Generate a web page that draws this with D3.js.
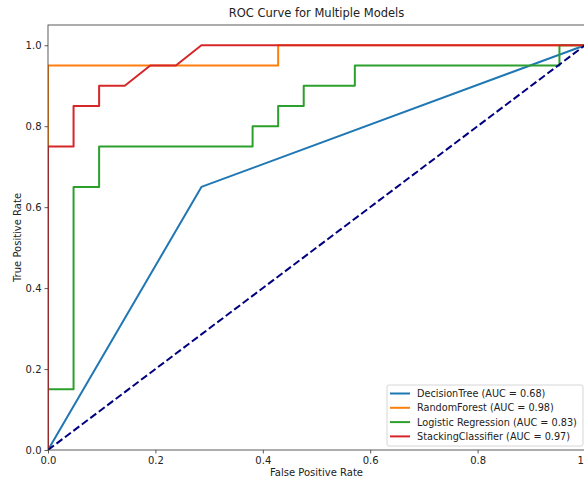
<!DOCTYPE html>
<html>
<head>
<meta charset="utf-8">
<script src="https://cdn.jsdelivr.net/npm/d3@7"></script>
<style>
  body { margin: 0; background: #fff; }
  svg { display: block; font-family: "DejaVu Sans", sans-serif; }
</style>
</head>
<body>
<div id="chart"></div>
<script>
// ROC points (fpr / tpr)
const treeFpr = [0, 0.2857, 1];
const treeTpr = [0, 0.65, 1];

const forestFpr = [0, 0, 0.4286, 0.4286, 1];
const forestTpr = [0, 0.95, 0.95, 1, 1];

const logisticFpr = [0, 0, 0.0476, 0.0476, 0.0952, 0.0952, 0.381, 0.381, 0.4286, 0.4286, 0.4762, 0.4762, 0.5714, 0.5714, 0.9524, 0.9524, 1];
const logisticTpr = [0, 0.15, 0.15, 0.65, 0.65, 0.75, 0.75, 0.8, 0.8, 0.85, 0.85, 0.9, 0.9, 0.95, 0.95, 1, 1];

const stackFpr = [0, 0, 0.0476, 0.0476, 0.0952, 0.0952, 0.1429, 0.1905, 0.2381, 0.2857, 1];
const stackTpr = [0, 0.75, 0.75, 0.85, 0.85, 0.9, 0.9, 0.95, 0.95, 1, 1];

const modelNames = ["DecisionTree", "RandomForest", "Logistic Regression", "StackingClassifier"];
const modelAuc = [0.68, 0.98, 0.83, 0.97];
const modelColors = ["#1f77b4", "#ff7f0e", "#2ca02c", "#d62728"];

const tickValues = [0, 0.2, 0.4, 0.6, 0.8, 1.0];

// Set the dimensions and margins of the graph
var margin = { top: 25, right: 0, bottom: 28, left: 48 },
  width = 537,
  height = 425;

var svg = d3
  .select("#chart")
  .append("svg")
  .attr("width", 584)
  .attr("height", 478)
  .append("g")
  .attr("transform", "translate(" + margin.left + "," + margin.top + ")");

var xScale = d3.scaleLinear().domain([0, 1]).range([0, width]);
var yScale = d3.scaleLinear().domain([0, 1.05]).range([height, 0]);

// clip the curves to the axes box
svg.append("clipPath").attr("id", "plot-clip")
  .append("rect").attr("width", width).attr("height", height);

var line = d3.line()
  .x(function(d) { return xScale(d[0]); })
  .y(function(d) { return yScale(d[1]); });

var curves = [
  d3.zip(treeFpr, treeTpr),
  d3.zip(forestFpr, forestTpr),
  d3.zip(logisticFpr, logisticTpr),
  d3.zip(stackFpr, stackTpr),
];

var plot = svg.append("g").attr("clip-path", "url(#plot-clip)");

curves.forEach(function(pts, i) {
  plot.append("path")
    .datum(pts)
    .attr("fill", "none")
    .attr("stroke", modelColors[i])
    .attr("stroke-width", 2)
    .attr("stroke-linejoin", "round")
    .attr("d", line);
});

// chance diagonal
plot.append("path")
  .datum([[0, 0], [1, 1]])
  .attr("fill", "none")
  .attr("stroke", "navy")
  .attr("stroke-width", 2)
  .attr("stroke-dasharray", "7.4,3.2")
  .attr("d", line);

// axes
var xAxis = svg.append("g")
  .attr("transform", "translate(0," + height + ")")
  .call(d3.axisBottom(xScale).tickValues(tickValues).tickFormat(d3.format(".1f")).tickSize(3.5).tickPadding(3));

var yAxis = svg.append("g")
  .call(d3.axisLeft(yScale).tickValues(tickValues).tickFormat(d3.format(".1f")).tickSize(3.5).tickPadding(3));

[xAxis, yAxis].forEach(function(ax) {
  ax.select(".domain").remove();
  ax.selectAll(".tick line").attr("stroke", "#333").attr("stroke-width", 0.8);
  ax.selectAll(".tick text").attr("fill", "#222").style("font-size", "10px").style("font-family", "DejaVu Sans");
});

// frame
svg.append("rect")
  .attr("width", width)
  .attr("height", height)
  .attr("fill", "none")
  .attr("stroke", "#333")
  .attr("stroke-width", 0.8);

// title and labels
svg.append("text")
  .attr("x", width / 2)
  .attr("y", -8)
  .attr("text-anchor", "middle")
  .style("font-size", "11.5px")
  .attr("fill", "#222")
  .text("ROC Curve for Multiple Models");

svg.append("text")
  .attr("x", width / 2)
  .attr("y", height + 26)
  .attr("text-anchor", "middle")
  .style("font-size", "10px")
  .attr("fill", "#222")
  .text("False Positive Rate");

svg.append("text")
  .attr("transform", "rotate(-90)")
  .attr("x", -height / 2)
  .attr("y", -27)
  .attr("text-anchor", "middle")
  .style("font-size", "10px")
  .attr("fill", "#222")
  .text("True Positive Rate");

// legend
var legend = svg.append("g").attr("transform", "translate(" + (387 - margin.left) + "," + (385 - margin.top) + ")");
legend.append("rect")
  .attr("width", 196)
  .attr("height", 61)
  .attr("rx", 2)
  .attr("fill", "#fff")
  .attr("fill-opacity", 0.8)
  .attr("stroke", "#ccc")
  .attr("stroke-width", 0.8);

modelNames.forEach(function(name, i) {
  var row = legend.append("g").attr("transform", "translate(0," + (8.5 + i * 14.3) + ")");
  row.append("line")
    .attr("x1", 3).attr("x2", 23)
    .attr("stroke", modelColors[i])
    .attr("stroke-width", 2);
  row.append("text")
    .attr("x", 30)
    .attr("dy", "0.35em")
    .style("font-size", "9.7px")
    .attr("fill", "#222")
    .text(name + " (AUC = " + modelAuc[i].toFixed(2) + ")");
});
</script>
</body>
</html>
